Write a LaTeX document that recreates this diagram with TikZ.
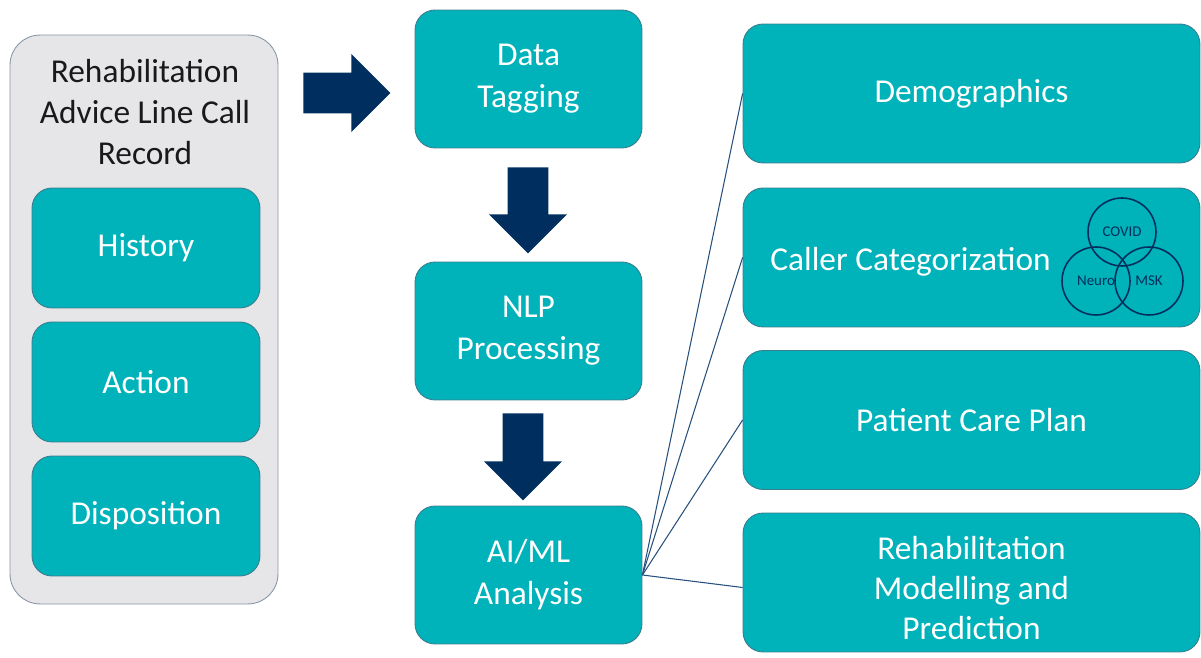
\documentclass[tikz,border=0pt]{standalone}
\usepackage{fontspec}
\setmainfont{Carlito}
\usetikzlibrary{shapes.arrows}

\definecolor{tealbox}{HTML}{00B2B9}
\definecolor{tealedge}{HTML}{3B7D8E}
\definecolor{recordgray}{HTML}{E6E6E8}
\definecolor{recordedge}{HTML}{8A96A6}
\definecolor{navy}{HTML}{002F5F}
\definecolor{linkblue}{HTML}{27507C}

\begin{document}
\begin{tikzpicture}[x=0.02cm, y=-0.02cm, % pixel grid, y down
	stage/.style={rectangle, rounded corners=0.4cm, fill=tealbox, draw=tealedge,
		line width=0.5pt, text=white, align=center, inner sep=0,
		font=\fontsize{19}{24}\selectfont},
	part/.style={stage, minimum width=4.56cm, minimum height=2.4cm},
	step box/.style={stage, minimum width=4.54cm, minimum height=2.76cm},
	outcome/.style={stage, minimum width=9.14cm, minimum height=2.78cm},
	label text/.style={text=white, align=center, font=\fontsize{19}{23}\selectfont},
	bigarrow/.style={single arrow, fill=navy, inner sep=0.4cm,
		single arrow head extend=0.37cm, anchor=tail},
	venn/.style={circle, draw=navy, line width=0.9pt, minimum size=1.36cm,
		inner sep=0, text=navy, font=\fontsize{8.5}{9}\selectfont},
	link/.style={draw=linkblue, line width=0.6pt}]

	\useasboundingbox (0,0) rectangle (1201,658);

	% call record
	\node[rectangle, rounded corners=0.6cm, fill=recordgray, draw=recordedge,
		line width=0.5pt, minimum width=5.36cm, minimum height=11.38cm] (rec) at (144,319.5) {};
	\node[align=center, text=black!90, font=\fontsize{19}{23.5}\selectfont] (title) at (145,112)
		{Rehabilitation\\Advice Line Call\\Record};
	\node[part] (hist) at (146,248) {History};
	\node[part] (act)  at (146,382) {Action};
	\node[part] (disp) at (146,516) {Disposition};

	% processing steps
	\node[step box] (tag) at (528.5,79)  {Data\\Tagging};
	\node[step box] (nlp) at (528.5,331) {NLP\\Processing};
	\node[step box] (ai)  at (528.5,575) {AI/ML\\Analysis};

	\node[bigarrow, minimum height=1.74cm] (toTag) at (303,93) {};
	\node[bigarrow, minimum height=1.72cm, shape border rotate=270] (toNlp) at (528,167) {};
	\node[bigarrow, minimum height=1.74cm, shape border rotate=270] (toAi) at (523,413) {};

	% outcomes
	\node[outcome] (demo)   at (971.5,93.5)  {Demographics};
	\node[outcome] (caller) at (971.5,257.5) {};
	\node[label text] (callerText) at ([xshift=-1.22cm,yshift=-0.08cm]caller.center)
		{Caller Categorization};
	\node[outcome] (pcp)    at (971.5,420)   {Patient Care Plan};
	\node[outcome] (rehab)  at (971.5,582.5) {};
	\node[label text] (rehabText) at ([yshift=-0.11cm]rehab.center)
		{Rehabilitation\\Modelling and\\Prediction};

	\node[venn] (covid) at (1122,232) {COVID};
	\node[venn] (neuro) at (1096,281) {Neuro};
	\node[venn] (msk)   at (1149,281) {MSK};

	\draw[link] (ai.east) -- (demo.west);
	\draw[link] (ai.east) -- (caller.west);
	\draw[link] (ai.east) -- (pcp.west);
	\draw[link] (ai.east) -- ([yshift=-0.1cm]rehab.west);

\end{tikzpicture}
\end{document}
